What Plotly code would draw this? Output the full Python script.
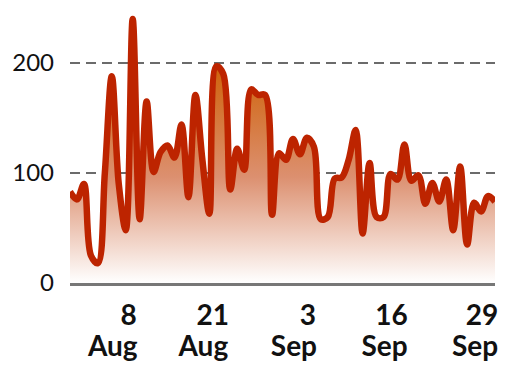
import plotly.graph_objects as go
import pandas as pd

# Daily values, 1 Aug -> 1 Oct
dates = pd.date_range("2023-08-01", periods=62, freq="D")
values = [83, 76, 90, 25, 18, 100, 188, 90, 48, 240,
          58, 165, 101, 119, 125, 114, 144, 78, 171, 112,
          63, 197, 190, 85, 122, 103, 176, 171, 171, 62,
          118, 112, 131, 117, 132, 124, 58, 60, 95, 96,
          112, 139, 45, 109, 60, 60, 99, 94, 126, 93,
          98, 72, 91, 74, 94, 48, 106, 35, 73, 65,
          79, 74]

x_tick_dates = ["2023-08-08", "2023-08-21", "2023-09-03", "2023-09-16", "2023-09-29"]
x_tick_days = ["\u2002\u2002\u20098", "\u2002\u200621", "\u2002\u20023", "\u200216", "\u200229"]
x_tick_months = ["Aug", "Aug", "Sep", "Sep", "Sep"]

y_tick_vals = [0, 100, 200]
y_tick_text = ["0", "100", "200"]

fig = go.Figure()
fig.add_trace(go.Scatter(
    x=dates, y=values,
    mode="lines",
    line=dict(color="#bd2400", width=6.5, shape="spline", smoothing=1.0),
    fill="tozeroy",
    fillgradient=dict(
        type="vertical",
        colorscale=[[0, "#ffffff"], [0.4, "#dc9070"], [0.8, "#d06510"], [1, "#c85800"]],
        start=0, stop=240,
    ),
    hoverinfo="skip",
))
# invisible carrier trace so the month-label axis (x2) is drawn
fig.add_trace(go.Scatter(
    x=dates, y=values, xaxis="x2", yaxis="y",
    mode="lines", line=dict(width=0), opacity=0,
    hoverinfo="skip", showlegend=False,
))

x_range = [dates[0], dates[-1]]
tick_font = dict(family="Lato", size=28, weight="bold", color="#111")

# page body has an 8px default margin, so the figure is sized to fit
fig.update_layout(
    width=504, height=364,
    margin=dict(l=62, r=17, t=0, b=89),
    paper_bgcolor="white", plot_bgcolor="white",
    showlegend=False,
    font=dict(family="Lato", color="#111"),
    xaxis=dict(
        type="date", range=x_range,
        tickvals=x_tick_dates, ticktext=x_tick_days,
        tickfont=tick_font,
        showgrid=False, zeroline=False,
        showline=True, linecolor="#777", linewidth=3,
        ticks="", ticklabelshift=-6, ticklabelstandoff=5,
    ),
    xaxis2=dict(
        type="date", range=x_range, matches="x",
        overlaying="x", anchor="y", side="bottom",
        tickvals=x_tick_dates, ticktext=x_tick_months,
        tickfont=tick_font,
        showgrid=False, zeroline=False, showline=False,
        ticks="", ticklabelshift=-6, ticklabelstandoff=44,
    ),
    yaxis=dict(
        range=[0, 250],
        tickvals=y_tick_vals, ticktext=y_tick_text,
        tickfont=dict(family="Lato", size=24, color="#111"),
        showgrid=True, gridcolor="#6b6b6b", gridwidth=2, griddash="10px,6px",
        zeroline=True, zerolinecolor="#777", zerolinewidth=3,
        showline=False, ticks="", ticklabelstandoff=15,
    ),
)

fig.write_html("out.html")
